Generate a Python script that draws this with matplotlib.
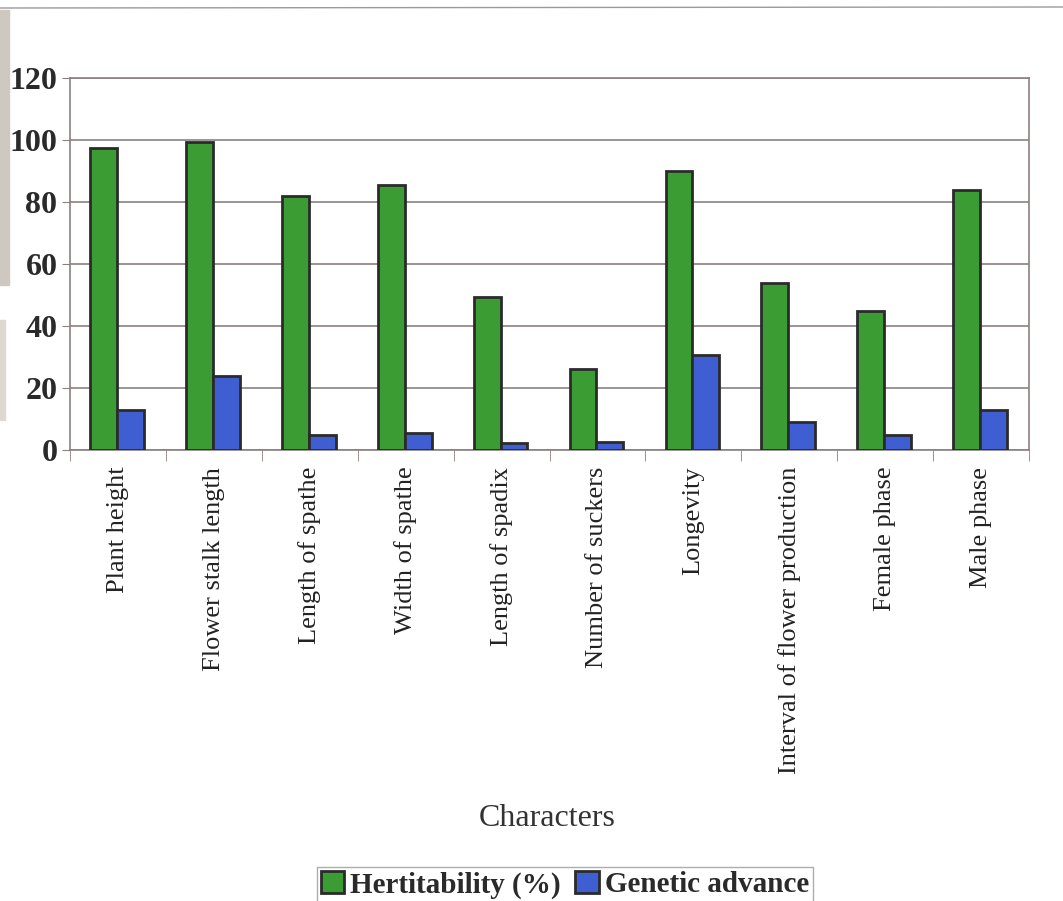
import numpy as np
import matplotlib
matplotlib.use("Agg")
import matplotlib.pyplot as plt
from matplotlib.patches import Rectangle
from matplotlib.lines import Line2D

characters = ["Plant height", "Flower stalk length", "Length of spathe", "Width of spathe",
              "Length of spadix", "Number of suckers", "Longevity",
              "Interval of flower production", "Female phase", "Male phase"]
heritability = [97.5, 99.5, 82, 85.5, 49.5, 26, 90, 54, 45, 84]
genetic_advance = [13, 24, 5, 5.5, 2.3, 2.5, 30.5, 9, 4.8, 13]

GREEN = "#3a9c32"
BLUE = "#3f5ed2"
EDGE = "#2b2b2b"
GRID = "#8c8080"

plt.rcParams["font.family"] = ["Liberation Serif", "DejaVu Serif"]

fig = plt.figure(figsize=(10.63, 9.01), dpi=100)
ax = fig.add_axes([70 / 1063, 1 - 450 / 901, 959 / 1063, 372 / 901])

x = np.arange(len(characters))
w = 0.28
ax.bar(x - 0.15, heritability, w, color=GREEN, edgecolor=EDGE, linewidth=2.0,
       label="Hertitability (%)", zorder=3)
ax.bar(x + 0.13, genetic_advance, w, color=BLUE, edgecolor=EDGE, linewidth=2.0,
       label="Genetic advance", zorder=3)

ax.set_xlim(-0.5, len(characters) - 0.5)
ax.set_ylim(0, 120)
ax.set_yticks(np.arange(0, 121, 20))
ax.tick_params(axis="y", labelsize=23, length=6, color=GRID, pad=3, labelcolor="#2a2a2a")
for lbl in ax.get_yticklabels():
    lbl.set_fontweight("bold")
ax.yaxis.grid(True, color=GRID, linewidth=1.2, zorder=0)

ax.set_xticks(x)
ax.set_xticklabels(characters, rotation=90, fontsize=19, color="#222222")
ax.set_xticks(np.arange(-0.5, len(characters)), minor=True)
ax.tick_params(axis="x", which="major", length=0, pad=12)
ax.tick_params(axis="x", which="minor", length=8, color=GRID)
for s in ax.spines.values():
    s.set_color(GRID)
    s.set_linewidth(1.2)

fig.text(547 / 1063, 1 - 818 / 901, "Characters", ha="center", va="center",
         fontsize=23, color="#333333")

leg = fig.legend(loc="upper center", bbox_to_anchor=(565 / 1063, 1 - 852 / 901),
                 ncol=2, frameon=True, fancybox=False,
                 prop={"weight": "bold", "size": 21}, handlelength=0.8, handleheight=0.8,
                 handletextpad=0.2, columnspacing=0.5, borderpad=0.15)
leg.get_frame().set_edgecolor("#999999")
leg.get_frame().set_linewidth(1.0)
for t in leg.get_texts():
    t.set_color("#2a2a2a")

# scanned page edge
fig.patches.append(Rectangle((0, 1 - 285 / 901), 9 / 1063, 275 / 901,
                             transform=fig.transFigure, color="#cfc8c1", zorder=0))
fig.patches.append(Rectangle((0, 1 - 420 / 901), 5 / 1063, 100 / 901,
                             transform=fig.transFigure, color="#ddd8d2", zorder=0))
fig.lines.append(Line2D([0, 1], [1 - 8 / 901, 1 - 7 / 901], transform=fig.transFigure,
                        color="#9a9a9a", linewidth=1.0))

fig.savefig("out.png", dpi=100)
